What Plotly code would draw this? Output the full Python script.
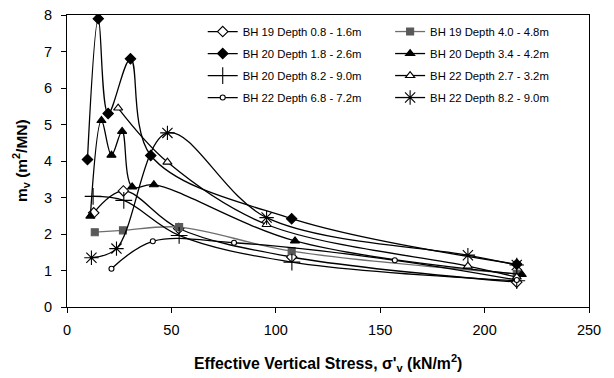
import plotly.graph_objects as go

# Effective vertical stress (kN/m2) and coefficient of volume compressibility mv (m2/MN)
bh19_a_x = [12.8, 27.0, 53.5, 107.6, 215.4]
bh19_a_y = [2.58, 3.18, 2.15, 1.37, 0.68]

bh19_b_x = [13.3, 26.8, 53.7, 107.6, 215.4]
bh19_b_y = [2.05, 2.10, 2.19, 1.53, 0.91]

bh20_a_x = [9.8, 15.0, 19.7, 30.4, 40.1, 107.6, 215.4]
bh20_a_y = [4.04, 7.90, 5.30, 6.80, 4.15, 2.42, 1.17]

bh20_b_x = [11.2, 16.5, 21.3, 26.4, 31.2, 41.6, 109.2, 217.8]
bh20_b_y = [2.49, 5.11, 4.16, 4.81, 3.29, 3.35, 1.81, 0.89]

bh20_c_x = [12.5, 27.2, 53.7, 107.7, 215.4]
bh20_c_y = [3.03, 2.92, 1.96, 1.23, 0.72]

bh22_a_x = [24.5, 48.1, 95.6, 192.0, 215.4]
bh22_a_y = [5.45, 3.97, 2.26, 1.12, 0.82]

bh22_b_x = [21.3, 41.1, 80.0, 157.0, 215.4]
bh22_b_y = [1.05, 1.80, 1.76, 1.28, 0.74]

bh22_c_x = [11.7, 23.7, 48.1, 95.6, 192.0, 215.4]
bh22_c_y = [1.35, 1.60, 4.77, 2.45, 1.42, 1.15]

names = [
    "BH 19 Depth 0.8 - 1.6m", "BH 19 Depth 4.0 - 4.8m",
    "BH 20 Depth 1.8 - 2.6m", "BH 20 Depth 3.4 - 4.2m",
    "BH 20 Depth 8.2 - 9.0m", "BH 22 Depth 2.7 - 3.2m",
    "BH 22 Depth 6.8 - 7.2m", "BH 22 Depth 8.2 - 9.0m",
]

x_title = "<b>Effective Vertical Stress, σ'<sub>v</sub> (kN/m<sup>2</sup>)</b>"
y_title = "<b>m<sub>v</sub> (m<sup>2</sup>/MN)</b>"

FONT = "Liberation Sans, Arial, sans-serif"
BLACK = "#000000"
GREY = "#595959"

series = [
    # x, y, symbol, size, fill, outline, line colour, legend
    (bh19_a_x, bh19_a_y, "diamond", 8, "white", BLACK, BLACK, "legend"),
    (bh19_b_x, bh19_b_y, "square", 7, GREY, GREY, "#6e6e6e", "legend2"),
    (bh20_a_x, bh20_a_y, "diamond", 8, BLACK, BLACK, BLACK, "legend"),
    (bh20_b_x, bh20_b_y, "triangle-up", 8, BLACK, BLACK, BLACK, "legend2"),
    (bh20_c_x, bh20_c_y, "cross-thin", 12, BLACK, BLACK, BLACK, "legend"),
    (bh22_a_x, bh22_a_y, "triangle-up", 8, "white", BLACK, BLACK, "legend2"),
    (bh22_b_x, bh22_b_y, "circle", 5, "white", BLACK, BLACK, "legend"),
    (bh22_c_x, bh22_c_y, "asterisk", 12, BLACK, BLACK, BLACK, "legend2"),
]

fig = go.Figure()
for i, (xs, ys, sym, sz, fill, edge, lc, lg) in enumerate(series):
    fig.add_trace(go.Scatter(
        x=xs, y=ys, name=names[i], mode="lines+markers",
        line=dict(color=lc, width=1.3, shape="spline", smoothing=1.0),
        marker=dict(symbol=sym, size=sz, color=fill,
                    line=dict(color=edge, width=1.1)),
        legend=lg, legendgroup=f"g{i}",
    ))

legend_common = dict(
    font=dict(family=FONT, size=11.3, color=BLACK),
    bgcolor="rgba(0,0,0,0)", borderwidth=0,
    tracegroupgap=3, yanchor="top", xanchor="left",
    itemwidth=30,
)

fig.update_layout(
    width=614, height=378,
    margin=dict(l=67, r=25, t=15, b=71),
    paper_bgcolor="white", plot_bgcolor="white",
    font=dict(family=FONT, color=BLACK),
    showlegend=True,
    legend=dict(x=0.26, y=0.993, **legend_common),
    legend2=dict(x=0.619, y=0.993, **legend_common),
    xaxis=dict(
        range=[0, 250], dtick=50, tick0=0, automargin=False,
        showline=True, linecolor=BLACK, linewidth=1, mirror=True,
        ticks="outside", ticklen=5, tickcolor=BLACK, tickwidth=1,
        ticklabelstandoff=5,
        showgrid=False, zeroline=False,
        tickfont=dict(family=FONT, size=14.5, color=BLACK),
    ),
    yaxis=dict(
        range=[0, 8], dtick=1, tick0=0, automargin=False,
        showline=True, linecolor=BLACK, linewidth=1, mirror=True,
        ticks="outside", ticklen=5, tickcolor=BLACK, tickwidth=1,
        ticklabelstandoff=6,
        showgrid=False, zeroline=False,
        tickfont=dict(family=FONT, size=14.5, color=BLACK),
    ),
    annotations=[
        dict(text=x_title, xref="paper", yref="paper", x=0.5, y=0,
             xanchor="center", yanchor="middle", yshift=-56, showarrow=False,
             font=dict(family=FONT, size=15.8, color=BLACK)),
        dict(text=y_title, xref="paper", yref="paper", x=0, y=0.5,
             xanchor="center", yanchor="middle", xshift=-46, textangle=-90,
             showarrow=False, font=dict(family=FONT, size=15.5, color=BLACK)),
    ],
)

fig.write_html("out.html")
